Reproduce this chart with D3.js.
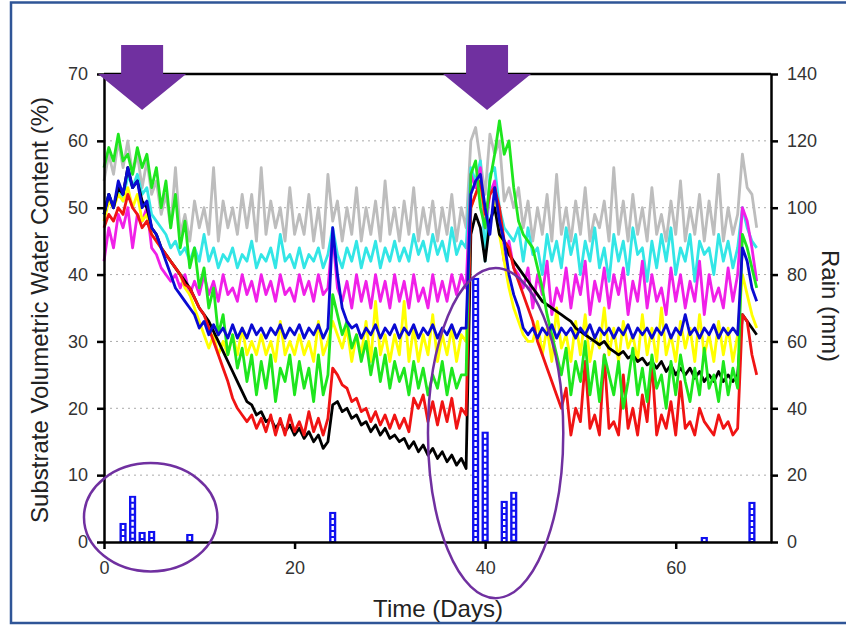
<!DOCTYPE html>
<html lang="en">
<head>
    <meta charset="UTF-8">
    <title>Substrate Volumetric Water Content and Rain</title>
    <style>
        body {
            margin: 0;
            padding: 0;
            background: #fff;
            font-family: Arial, "Liberation Sans", sans-serif;
        }

        .axis text {
            font-size: 18px;
            fill: #333;
            font-family: Arial, "Liberation Sans", sans-serif;
        }

        .axis path,
        .axis line {
            stroke: #000;
            stroke-width: 2.5px;
        }

        .grid line {
            stroke: #aaa;
            stroke-width: 1px;
            stroke-dasharray: 2, 4;
        }

        .series {
            fill: none;
            stroke-width: 2.8px;
            stroke-linejoin: round;
        }

        .title {
            font-size: 24px;
            fill: #222;
        }
    </style>
</head>
<body>
    <div id="chart"></div>

    <script src="https://d3js.org/d3.v7.min.js"></script>
    <script>
        // readings every half day, starting at day 0
        const stepDays = 0.5;

        const gray = [
            54,58,55,60,56,60,55,58,53,57,
            52,54,49,52,47,56,46,49,45,51,
            47,50,46,56,45,51,47,50,46,52,
            47,52,45,56,46,51,47,50,45,53,
            46,49,46,52,45,50,44,55,48,51,
            45,50,46,53,45,50,46,51,45,54,
            46,50,45,51,46,53,45,50,46,51,
            45,50,46,52,45,50,47,60,62,57,
            52,61,58,60,51,53,50,53,47,51,
            45,50,46,52,45,55,46,50,45,51,
            46,53,45,49,47,51,45,56,46,51,
            45,52,46,50,45,53,46,49,45,51,
            46,54,45,50,46,52,45,51,46,55,
            45,50,46,49,58,53,52,47
        ];

        const cyan = [
            49,52,50,53,51,55,53,55,52,53,
            49,48,47,46,44,45,43,44,42,44,
            42,46,42,44,41,43,42,44,41,43,
            42,45,41,43,42,44,41,46,42,43,
            41,44,41,43,42,44,41,43,47,43,
            41,44,42,45,41,44,42,45,41,44,
            42,45,42,44,42,46,43,45,42,46,
            43,45,42,47,43,45,44,56,54,57,
            42,55,56,50,47,46,45,47,42,47,
            43,44,40,46,42,45,41,47,43,46,
            40,45,42,47,41,44,39,46,42,45,
            40,47,43,44,39,45,41,46,42,47,
            40,44,42,46,39,45,43,44,40,46,
            42,45,41,44,50,47,45,44
        ];

        const magenta = [
            42,47,44,49,47,50,44,49,48,50,
            44,43,41,40,39,40,38,40,37,39,
            37,40,37,39,36,40,37,38,36,40,
            37,39,36,40,37,39,36,40,37,38,
            36,40,37,39,36,40,37,38,46,38,
            36,39,35,40,36,39,35,40,36,39,
            35,40,36,39,35,40,36,38,35,40,
            36,39,36,40,37,40,38,55,53,56,
            47,52,54,47,42,45,41,40,38,41,
            35,40,37,42,34,38,36,41,35,40,
            37,42,34,39,36,41,35,40,37,41,
            34,39,36,42,35,40,36,38,34,41,
            36,40,35,39,36,42,34,40,36,38,
            35,41,36,40,50,48,44,39
        ];

        const blue = [
            49,52,50,54,52,56,53,54,50,51,
            47,46,44,42,40,38,37,36,35,34,
            32,33,31,32.5,31,32,30.5,32.5,30.5,32,
            30.5,32.5,31,32,30.5,32,31,32.5,30.5,32,
            31,32.5,30.5,32,31,32.5,30.5,32,47,40,
            35,33,32,32.5,30.5,32,31,32.5,30.5,32,
            31,32.5,30.5,32,31,32.5,30.5,32,31,32.5,
            30.5,32,31,32.5,30.5,32,32,52,54,55,
            50,46,53,48,45,40,37,35,32,31,
            32,30.5,32,31,32.5,30.5,32,31,32,30.5,
            32,31,32.5,30.5,32,31,32,30.5,32,31,
            32.5,30.5,32,31,32,30.5,32,31,32.5,30.5,
            32,31,34,31,32,30.5,32,31,32.5,30.5,
            32,31,32,31,44,42,38,36
        ];

        const yellow = [
            48,51,50,52,51,53,50,52,48,49,
            46,45,44,43,42,41,40,38,37,35,
            33,31,29,31,28,30,28,31,28,32,
            28,30,28,31,28,30,27,33,28,30,
            28,31,28,30,27,33,28,30,33,31,
            29,32,27,31,28,33,27,36,28,31,
            27,31,28,36,27,32,27,31,28,34,
            27,31,28,32,27,31,30,50,52,53,
            49,47,51,46,42,38,35,33,31,30,
            30,33,28,32,27,35,29,31,27,33,
            28,34,27,31,29,35,28,32,27,33,
            29,31,27,34,28,32,27,35,28,31,
            27,33,29,32,27,34,28,31,27,33,
            28,32,27,31,40,37,34,32
        ];

        const green = [
            56,59,57,61,57,58,55,59,56,58,
            53,56,50,54,47,52,44,48,41,44,
            38,41,35,38,31,34,28,31,26,29,
            24,28,22,27,23,28,21,26,24,28,
            22,27,23,26,21,28,22,25,37,34,
            31,33,29,31,27,30,25,29,24,28,
            23,27,24,26,22,27,23,26,22,25,
            23,27,22,26,23,25,25,55,57,50,
            47,54,58,63,58,60,53,48,46,45,
            44,41,38,34,31,28,25,29,22,27,
            24,30,22,27,21,28,25,22,27,20,
            24,29,22,26,21,28,23,25,20,27,
            22,28,24,21,26,22,29,23,25,21,
            27,22,26,23,46,44,41,38
        ];

        const black = [
            49,52,50,53,52,56,53,54,51,50,
            47,46,44,43,42,41,40,39,38,36.5,
            35,34,33,31.5,30,28.5,27,25.5,24,22.5,
            21,20.5,19,19.5,18,18.5,17,18,16.5,17.5,
            16,17,15.5,16.5,15,16,14,15,20.5,21,
            19.5,20,18.5,19,17.5,18,16.5,17.5,16,17,
            15.5,16,15,15.5,14,15,13.5,14.5,13,14,
            12.5,13.5,12,13,11.5,12.5,11,46,49,47,
            42,48,50,46,45,43,42,41,40,39,
            38,37,36,35.5,35,34.5,34,33.5,33,32,
            31.5,31,30.5,30,29.5,30,29,28.5,28,28.5,
            27.5,28,27,27.5,26.5,27,26,27,25.5,26.5,
            25,26,25,26,24.5,25.5,24,25,24,25.5,
            24,25,24,25,34,33,32,31
        ];

        const red = [
            47,49,48,50,49,52,50,49,47,48,
            46,45,44,43,42,41,40,38.5,38,36.5,
            35,34,32,30,28,26,24,21.5,20,19,
            18,19,17,18.5,16.5,19,16,18.5,16,19,
            16.5,18,16,19.5,16.5,18.5,16,18.5,26,25,
            23.5,23,21,21.5,19.5,20,18,19.5,17.5,19,
            17,19,17,18.5,16.5,21.5,20,22,18,21,
            17.5,21,18,21.5,17,20,19,50,52,54,
            49,52,53,50,45,44,41,39,37,35,
            33,30,28,26,24,22,20,23,16,20,
            18,27,17,19,16,28,17,18,16,25,
            17,20,16,22,18,27,16,19,17,21,
            16,24,17,18,16,20,18,17,16,19,
            17,18,16,17,34,33,28,25
        ];

        // drawing order (last on top) and colours
        const seriesNames = ["gray", "cyan", "magenta", "yellow", "black", "red", "green", "blue"];
        const seriesValues = [gray, cyan, magenta, yellow, black, red, green, blue];
        const seriesColors = ["#bdbdbd", "#33e6e6", "#f020e8", "#ffff00", "#000000", "#f01414", "#1ee61e", "#0a0ad2"];

        // rain events (mm)
        const rainDays = [2, 3, 4, 5, 9, 24, 39, 40, 42, 43, 63, 68];
        const rainMm = [5.7, 13.8, 3, 3.3, 2.4, 9, 79, 33, 12.3, 15, 1.5, 12];

        const xTicks = [0, 20, 40, 60];
        const leftTicks = [0, 10, 20, 30, 40, 50, 60, 70];
        const rightTicks = [0, 20, 40, 60, 80, 100, 120, 140];

        // annotations: arrows (day) and ellipses (day, %, half-widths)
        const arrowDays = [4, 40.2];
        const ellipses = [
            { day: 4.9, val: 3.7, rDays: 7.0, rVal: 8.1 },
            { day: 41.1, val: 16.3, rDays: 7.1, rVal: 24.7 }
        ];

        const W = 846, H = 627;
        const margin = { top: 74, right: 75, bottom: 85, left: 104 };
        const width = W - margin.left - margin.right;
        const height = H - margin.top - margin.bottom;

        const svg = d3.select("#chart").append("svg")
            .attr("width", W)
            .attr("height", H);

        // slide frame
        svg.append("rect")
            .attr("x", 11).attr("y", 2.5)
            .attr("width", 900).attr("height", 620.5)
            .attr("fill", "none")
            .attr("stroke", "#2f5597")
            .attr("stroke-width", 2.5);

        const g = svg.append("g")
            .attr("transform", "translate(" + margin.left + "," + margin.top + ")");

        const x = d3.scaleLinear().domain([0, 70]).range([0, width]);
        const yL = d3.scaleLinear().domain([0, 70]).range([height, 0]);
        const yR = d3.scaleLinear().domain([0, 140]).range([height, 0]);

        // dotted gridlines
        g.append("g").attr("class", "grid")
            .selectAll("line")
            .data(leftTicks.filter(t => t > 0 && t < 70))
            .enter().append("line")
            .attr("x1", 0).attr("x2", width)
            .attr("y1", d => yL(d)).attr("y2", d => yL(d));

        // water content lines
        const line = d3.line()
            .x((d, i) => x(i * stepDays))
            .y(d => yL(d));

        g.selectAll(".series")
            .data(seriesValues)
            .enter().append("path")
            .attr("class", (d, i) => "series " + seriesNames[i])
            .attr("stroke", (d, i) => seriesColors[i])
            .attr("d", line);

        // rain bars
        const barW = x(0.75) - x(0);
        const bars = g.append("g").attr("class", "rain");
        rainDays.forEach((day, i) => {
            const top = yR(rainMm[i]);
            bars.append("rect")
                .attr("x", x(day) - barW / 2)
                .attr("y", top)
                .attr("width", barW)
                .attr("height", height - top)
                .attr("fill", "#1010f0");
            bars.append("line")
                .attr("x1", x(day)).attr("x2", x(day))
                .attr("y1", top + 2).attr("y2", height - 1)
                .attr("stroke", "#fff")
                .attr("stroke-width", 2.4)
                .attr("stroke-dasharray", "4,2");
        });

        // axes
        g.append("g").attr("class", "axis")
            .call(d3.axisLeft(yL).tickValues(leftTicks).tickSize(7).tickPadding(9).tickSizeOuter(0));

        g.append("g").attr("class", "axis")
            .attr("transform", "translate(" + width + ",0)")
            .call(d3.axisRight(yR).tickValues(rightTicks).tickSize(7).tickPadding(9).tickSizeOuter(0));

        g.append("g").attr("class", "axis")
            .attr("transform", "translate(0," + height + ")")
            .call(d3.axisBottom(x).tickValues(xTicks).tickSize(7).tickPadding(12).tickSizeOuter(0));

        g.append("line")
            .attr("x1", 0).attr("x2", width)
            .attr("y1", 0).attr("y2", 0)
            .attr("stroke", "#000").attr("stroke-width", 2.5);

        // axis titles
        svg.append("text")
            .attr("class", "title")
            .attr("text-anchor", "middle")
            .attr("transform", "translate(48," + (margin.top + height / 2 + 2) + ") rotate(-90)")
            .text("Substrate Volumetric Water Content (%)");

        svg.append("text")
            .attr("class", "title")
            .attr("text-anchor", "middle")
            .attr("transform", "translate(822," + (margin.top + height / 2 - 2) + ") rotate(90)")
            .text("Rain (mm)");

        svg.append("text")
            .attr("class", "title")
            .attr("text-anchor", "middle")
            .attr("x", 438).attr("y", 617)
            .text("Time (Days)");

        // purple arrows above the plot
        const purple = "#7030a0";
        arrowDays.forEach(day => {
            const cx = margin.left + x(day);
            const top = margin.top;
            const pts = [
                [cx - 21, top - 29], [cx + 21, top - 29], [cx + 21, top],
                [cx + 44, top], [cx, top + 36], [cx - 44, top], [cx - 21, top]
            ];
            svg.append("polygon")
                .attr("points", pts.map(p => p.join(",")).join(" "))
                .attr("fill", purple);
        });

        // ellipses marking rain periods
        g.selectAll(".ring")
            .data(ellipses)
            .enter().append("ellipse")
            .attr("class", "ring")
            .attr("cx", d => x(d.day))
            .attr("cy", d => yL(d.val))
            .attr("rx", d => x(d.rDays) - x(0))
            .attr("ry", d => yL(0) - yL(d.rVal))
            .attr("fill", "none")
            .attr("stroke", purple)
            .attr("stroke-width", 2.5);
    </script>
</body>
</html>
